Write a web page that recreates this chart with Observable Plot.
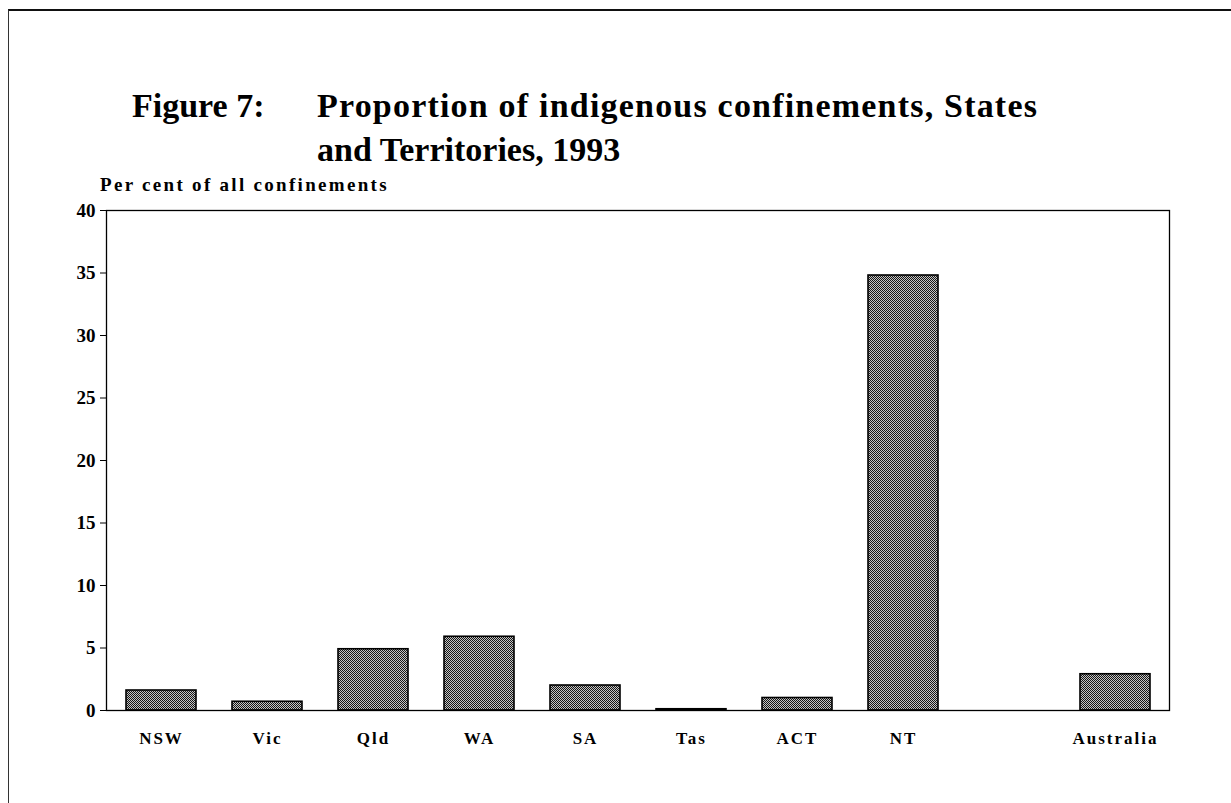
<!DOCTYPE html>
<html>
<head>
<meta charset="utf-8">
<script src="https://cdn.jsdelivr.net/npm/d3@7"></script>
<script src="https://cdn.jsdelivr.net/npm/@observablehq/plot@0.6"></script>
<style>
  html, body { margin: 0; padding: 0; background: #fff; width: 1231px; height: 803px; overflow: hidden; }
  #frame { position: absolute; left: 8px; top: 9px; width: 1240px; height: 820px; border-top: 2px solid #111; border-left: 1.5px solid #333; }
  .t { position: absolute; font-family: "Liberation Serif", "Times New Roman", serif; font-weight: bold; color: #000; white-space: nowrap; }
  #fig { left: 132px; top: 84px; font-size: 34px; line-height: 44px; }
  #title1 { left: 317px; top: 84px; font-size: 34px; line-height: 44px; letter-spacing: 1.2px; }
  #title2 { left: 317px; top: 128px; font-size: 34px; line-height: 44px; }
  #ylab { left: 100px; top: 174px; font-size: 19px; letter-spacing: 2.3px; }
  #chart { position: absolute; left: 0; top: 200px; }
</style>
</head>
<body>
<div id="frame"></div>
<div class="t" id="fig">Figure 7:</div>
<div class="t" id="title1">Proportion of indigenous confinements, States</div>
<div class="t" id="title2">and Territories, 1993</div>
<div class="t" id="ylab">Per cent of all confinements</div>
<div id="chart"></div>
<script>
const categories = ["NSW", "Vic", "Qld", "WA", "SA", "Tas", "ACT", "NT", "", "Australia"];
const values = [1.6, 0.7, 4.9, 5.9, 2.0, 0.1, 1.0, 34.8, null, 2.9];
const yTicks = [0, 5, 10, 15, 20, 25, 30, 35, 40];

const data = categories.map((c, i) => ({state: c, value: values[i]})).filter(d => d.value != null);

const chart = Plot.plot({
  width: 1231,
  height: 560,
  marginLeft: 106,
  marginRight: 62,
  marginTop: 10,
  marginBottom: 50,
  style: {fontFamily: "'Liberation Serif', 'Times New Roman', serif", fontWeight: "bold", background: "transparent", color: "#000"},
  x: {domain: categories, paddingInner: 0.34, paddingOuter: 0.17, label: null},
  y: {domain: [0, 40], ticks: yTicks, label: null},
  marks: [
    Plot.barY(data, {x: "state", y: "value", fill: "url(#hatch)", stroke: "#000", strokeWidth: 1.6}),
    Plot.frame({stroke: "#000", strokeWidth: 1.3}),
    Plot.axisY({ticks: yTicks, tickSize: 6, tickPadding: 5, fontSize: 19, label: null}),
    Plot.axisX({tickSize: 0, tickPadding: 21, fontSize: 17, label: null})
  ]
});

// checker pattern to mimic the dithered fill
const ns = "http://www.w3.org/2000/svg";
const defs = document.createElementNS(ns, "defs");
const pat = document.createElementNS(ns, "pattern");
pat.setAttribute("id", "hatch");
pat.setAttribute("patternUnits", "userSpaceOnUse");
pat.setAttribute("width", "2");
pat.setAttribute("height", "2");
const bg = document.createElementNS(ns, "rect");
bg.setAttribute("width", "2"); bg.setAttribute("height", "2"); bg.setAttribute("fill", "#c4c4c4");
pat.appendChild(bg);
[[0,0],[1,1]].forEach(([x,y]) => {
  const r = document.createElementNS(ns, "rect");
  r.setAttribute("x", x); r.setAttribute("y", y);
  r.setAttribute("width", "1"); r.setAttribute("height", "1");
  r.setAttribute("fill", "#151515");
  pat.appendChild(r);
});
defs.appendChild(pat);
chart.insertBefore(defs, chart.firstChild);
chart.querySelectorAll("g[aria-label='x-axis tick label'] text").forEach(t => t.setAttribute("letter-spacing", "2"));
document.getElementById("chart").appendChild(chart);
</script>
</body>
</html>
